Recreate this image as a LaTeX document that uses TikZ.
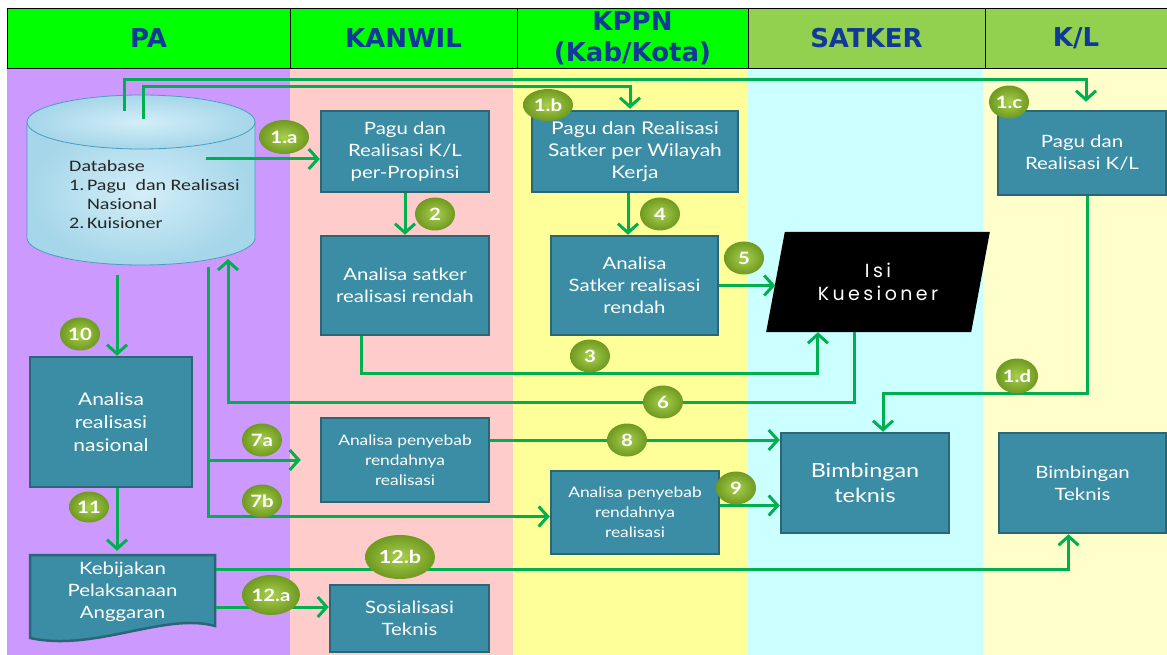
\documentclass[tikz,border=0pt]{standalone}
\usepackage{fontspec}
\setmainfont{Lato}[FakeStretch=1.2]
\newfontfamily\headFont{DejaVu Sans}
\newfontfamily\dbFont{Carlito}[FakeStretch=1.25]
\newfontfamily\kuesFont[LetterSpace=18]{Poppins}
\usetikzlibrary{arrows.meta,shapes.geometric}
\definecolor{headGreen}{HTML}{00FF00}
\definecolor{headLime}{HTML}{92D050}
\definecolor{headBlue}{HTML}{10399A}
\definecolor{laneViolet}{HTML}{CC99FF}
\definecolor{lanePink}{HTML}{FFCCCC}
\definecolor{laneYellow}{HTML}{FFFF99}
\definecolor{laneCyan}{HTML}{CCFFFF}
\definecolor{laneCream}{HTML}{FFFFCC}
\definecolor{boxTeal}{HTML}{3A8DA5}
\definecolor{boxEdge}{HTML}{2B6677}
\definecolor{flowGreen}{HTML}{00B050}
\definecolor{badgeLight}{HTML}{A9CF4E}
\definecolor{badgeDark}{HTML}{6F9A20}
\definecolor{dbLight}{HTML}{D3EEF8}
\definecolor{dbBlue}{HTML}{A5D6E9}
\definecolor{dbEdge}{HTML}{4A9EBF}

\begin{document}
\begin{tikzpicture}[x=1pt,y=-1pt,
  head/.style={draw=black, line width=0.8pt, text=headBlue, font=\headFont\bfseries\fontsize{26}{31}\selectfont, align=center, minimum height=60, inner sep=0pt},
  box/.style={draw=boxEdge, line width=2.5pt, fill=boxTeal, text=white, align=center, inner sep=2pt, font=\fontsize{17}{22}\selectfont},
  smallbox/.style={box, font=\fontsize{14.5}{20}\selectfont},
  kues/.style={trapezium, trapezium left angle=74, trapezium right angle=106, trapezium stretches=true, minimum width=224, minimum height=100, fill=black, text=white, align=center, font=\kuesFont\fontsize{19}{23}\selectfont},
  badge/.style={ellipse, minimum width=40, minimum height=33, inner sep=0pt, inner color=badgeLight, outer color=badgeDark, text=white, font=\bfseries\fontsize{17}{17}\selectfont},
  flow/.style={draw=flowGreen, line width=3pt, -{Straight Barb[length=9pt,width=20pt]}}]
\useasboundingbox (0,0) rectangle (1167,655);
\fill[white] (0,0) rectangle (1167,655);
\fill[laneViolet] (7,68) rectangle (290,655);
\fill[lanePink] (290,68) rectangle (513,655);
\fill[laneYellow] (513,68) rectangle (748,655);
\fill[laneCyan] (748,68) rectangle (983,655);
\fill[laneCream] (983,68) rectangle (1167,655);
\node[head, fill=headGreen, minimum width=283] (hPA) at (148.5,38) {PA};
\node[head, fill=headGreen, minimum width=227] (hKanwil) at (403.5,38) {KANWIL};
\node[head, fill=headGreen, minimum width=231] (hKppn) at (632.5,38) {KPPN\\(Kab/Kota)};
\node[head, fill=headLime, minimum width=237] (hSatker) at (866.5,38) {SATKER};
\node[head, fill=headLime, minimum width=182] (hKL) at (1076,38) {K/L};
\path[draw=dbEdge, line width=0.8pt, inner color=dbLight, outer color=dbBlue] (27,122) -- (27,238) arc[start angle=180, end angle=0, x radius=114, y radius=27] -- (255,122) -- cycle;
\path[draw=dbEdge, line width=0.8pt, inner color=dbLight, outer color=dbBlue] (141,122) ellipse [x radius=114, y radius=27];
\node[anchor=north west, inner sep=0pt, font=\dbFont\fontsize{16}{19}\selectfont, text=black!85] (db) at (69,158) {\begin{tabular}{@{}l@{\,}l@{}}\multicolumn{2}{@{}l}{Database}\\1. & Pagu\ \ dan Realisasi\\ & Nasional\\2. & Kuisioner\end{tabular}};
\node[box, minimum width=168, minimum height=81] (kanpagu) at (405,151.5) {Pagu dan\\Realisasi K/L\\per-Propinsi};
\node[box, minimum width=168, minimum height=99] (kanana) at (405,285.5) {Analisa satker\\realisasi rendah};
\node[box, minimum width=206, minimum height=81, font=\fontsize{17.5}{22}\selectfont] (kppnpagu) at (635,151.5) {Pagu dan Realisasi\\Satker per Wilayah\\Kerja};
\node[box, minimum width=167, minimum height=99] (kppnana) at (634.5,285.5) {Analisa\\Satker realisasi\\rendah};
\node[kues] (kues) at (878,282) {Isi\\Kuesioner};
\node[box, minimum width=168, minimum height=84] (klpagu) at (1082,153) {Pagu dan\\Realisasi K/L};
\node[box, minimum width=162, minimum height=130, font=\fontsize{17.5}{23}\selectfont] (nas) at (111,422) {Analisa\\realisasi\\nasional};
\path[fill=boxTeal, draw=boxEdge, line width=2.5pt] (30,555) -- (215,555) -- (215,626) .. controls (165,612) and (95,652) .. (30,638) -- cycle;
\node[box, draw=none, fill=none, minimum width=185, minimum height=80] (keb) at (122.5,592) {Kebijakan\\Pelaksanaan\\Anggaran};
\node[smallbox, minimum width=168, minimum height=84] (kanpen) at (405,460) {Analisa penyebab\\rendahnya\\realisasi};
\node[box, minimum width=159, minimum height=67] (sos) at (409.5,618.5) {Sosialisasi\\Teknis};
\node[smallbox, minimum width=168, minimum height=83] (kppnpen) at (635,512.5) {Analisa penyebab\\rendahnya\\realisasi};
\node[box, minimum width=168, minimum height=100, font=\fontsize{19.5}{25}\selectfont] (bim) at (865,483) {Bimbingan\\teknis};
\node[box, minimum width=167, minimum height=100] (klbim) at (1082.5,483) {Bimbingan\\Teknis};
\coordinate (dbA) at (124,111);
\coordinate (dbB) at (143,119);
\coordinate (dbC) at (206,159);
\coordinate (dbD) at (228,259);
\coordinate (dbE) at (117,275);
\coordinate (dbF) at (208,267);
\draw[flow] (dbA) -- ++(0,-31) -| ([xshift=4pt,yshift=8pt]klpagu.north);
\draw[flow] (dbB) -- ++(0,-32) -| ([xshift=-5pt,yshift=1pt]kppnpagu.north);
\draw[flow] (dbC) -- (dbC -| kanpagu.west);
\draw[flow] (kanpagu.south) -- (kanana.north);
\draw[flow] ([xshift=-7pt]kppnpagu.south) -- ([xshift=-7pt]kppnpagu.south |- kppnana.north);
\draw[flow] (kppnana.east) -- (kppnana.east -| kues.west);
\draw[flow] ([xshift=-44pt]kanana.south) -- ++(0,37) -| ([xshift=52pt]kues.bottom left corner);
\draw[flow] ([xshift=89pt]kues.bottom left corner) -- ++(0,70) -| (dbD);
\draw[flow] (dbE) -- (dbE |- nas.north);
\draw[flow] (dbF) |- ([yshift=-4pt]kppnpen.west);
\draw[flow] (dbF |- kanpen.west) -- ([xshift=-19pt]kanpen.west);
\draw[flow] ([yshift=20pt]kanpen.east) -- ([yshift=20pt]kanpen.east -| bim.west);
\draw[flow] ([yshift=7pt]kppnpen.east) -- ([yshift=7pt]kppnpen.east -| bim.west);
\draw[flow] ([xshift=5pt]klpagu.south) -- ++(0,197) -| ([xshift=18pt]bim.north);
\draw[flow] ([xshift=6pt]nas.south) -- ([xshift=6pt]nas.south |- keb.north);
\draw[flow] ([yshift=23pt]keb.east) -| ([xshift=-14pt]klbim.south);
\draw[flow] ([yshift=-15pt]keb.east) -- ([yshift=-15pt]keb.east -| sos.west);
\node[badge, minimum width=50, minimum height=34] (b1a) at (284,137) {1.a};
\node[badge, minimum width=50, minimum height=32] (b1b) at (548,105) {1.b};
\node[badge] (b1c) at (1009,102) {1.c};
\node[badge, minimum width=42, minimum height=35] (b1d) at (1017,376) {1.d};
\node[badge] (b2) at (435,214) {2};
\node[badge] (b3) at (590,356) {3};
\node[badge] (b4) at (660,214) {4};
\node[badge] (b5) at (744,258) {5};
\node[badge] (b6) at (663,402) {6};
\node[badge] (b7a) at (262,440) {7a};
\node[badge] (b7b) at (262,501) {7b};
\node[badge] (b8) at (627,440) {8};
\node[badge] (b9) at (736,488) {9};
\node[badge] (b10) at (80,334) {10};
\node[badge, minimum height=31] (b11) at (89,507) {11};
\node[badge, minimum width=58, minimum height=40] (b12a) at (271,595) {12.a};
\node[badge, minimum width=70, minimum height=44, font=\bfseries\fontsize{18}{18}\selectfont] (b12b) at (400,557) {12.b};
\end{tikzpicture}
\end{document}
